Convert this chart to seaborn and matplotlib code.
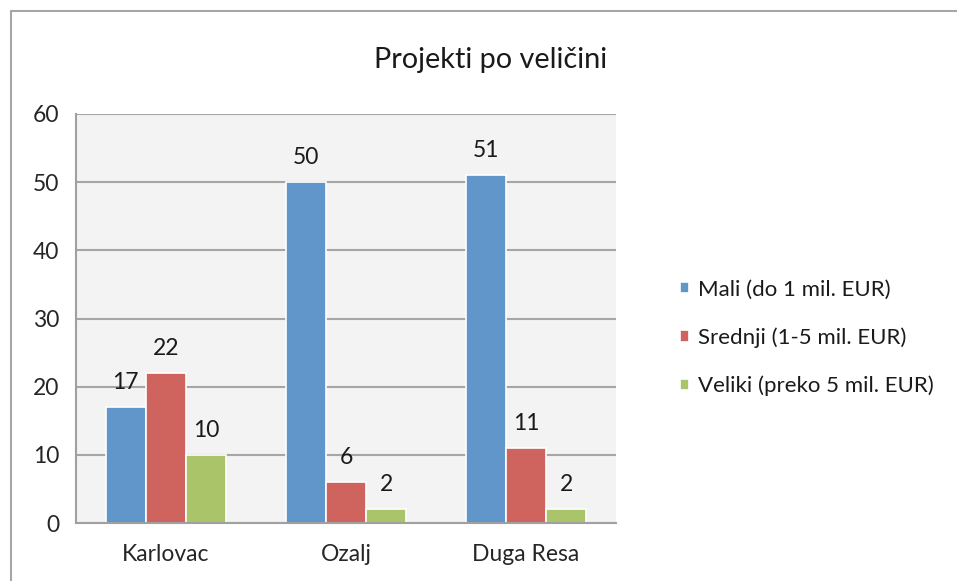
import numpy as np
import pandas as pd
import matplotlib.pyplot as plt
from matplotlib.lines import Line2D
import seaborn as sns

# data
gradovi = ['Karlovac', 'Ozalj', 'Duga Resa']
kategorije = ['Mali (do 1 mil. EUR)', 'Srednji (1-5 mil. EUR)', 'Veliki (preko 5 mil. EUR)']
mali = [17, 50, 51]
srednji = [22, 6, 11]
veliki = [10, 2, 2]
boje = ['#6196CA', '#CF645E', '#AAC46A']

df = pd.DataFrame({
    'grad': gradovi * 3,
    'kategorija': [k for k in kategorije for _ in gradovi],
    'broj': mali + srednji + veliki,
})

sns.set_style('white')
plt.rcParams['font.family'] = ['Lato', 'DejaVu Sans']
plt.rcParams['text.color'] = '#1a1a1a'

fig = plt.figure(figsize=(9.57, 5.81), dpi=100)
ax = fig.add_axes([76/957, 1-523/581, 540/957, 409/581])

sns.barplot(data=df, x='grad', y='broj', hue='kategorija', palette=boje, saturation=1,
            width=0.67, edgecolor='white', linewidth=1.2, ax=ax, legend=True)

for c in ax.containers:
    ax.bar_label(c, padding=10, fontsize=16.5, color='#1a1a1a')

ax.set_facecolor('#F3F3F3')
ax.set_ylim(0, 60)
ax.set_yticks(range(0, 61, 10))
ax.set_xlim(-0.5, 2.5)
ax.set_xticks([-0.5, 0.5, 1.5, 2.5], minor=True)
ax.tick_params(axis='x', which='major', length=0, pad=15, labelsize=16.5)
ax.tick_params(axis='x', which='minor', length=6, width=1.3, color='#A0A0A0')
ax.tick_params(axis='y', length=6, width=1.3, color='#A0A0A0', pad=6, labelsize=16.5)
ax.yaxis.grid(True, color='#A6A6A6', linewidth=1.5)
ax.set_axisbelow(True)
ax.set_xlabel('')
ax.set_ylabel('')
for s in ['top', 'right']:
    ax.spines[s].set_visible(False)
for s in ['left', 'bottom']:
    ax.spines[s].set_color('#A0A0A0')
    ax.spines[s].set_linewidth(1.5)

handles, labels = ax.get_legend_handles_labels()
ax.legend(handles, labels, loc='center left', bbox_to_anchor=(660/957, 1-338/581),
          bbox_transform=fig.transFigure, frameon=False, fontsize=16,
          handlelength=0.4, handleheight=0.4, handletextpad=0.4, labelspacing=1.25)

fig.text(491/957, 1-60/581, 'Projekti po veličini', ha='center', va='center', fontsize=20.8)

# outer chart border
fig.add_artist(Line2D([10.5/957, 10.5/957], [0, 1-11/581], color='#A6A6A6', lw=1.5))
fig.add_artist(Line2D([10.5/957, 1], [1-11/581, 1-11/581], color='#A6A6A6', lw=1.5))

fig.savefig('out.png', dpi=100)
